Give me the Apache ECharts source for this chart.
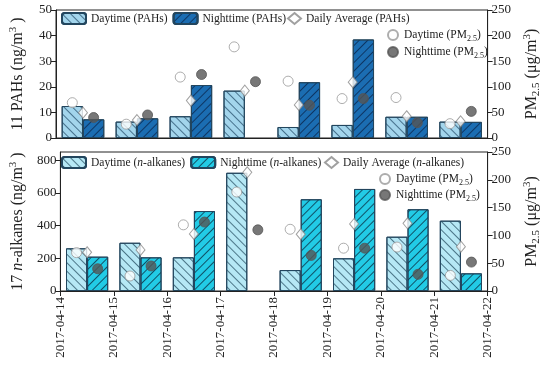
<!DOCTYPE html>
<html><head><meta charset="utf-8">
<script src="https://cdn.jsdelivr.net/npm/echarts@6/dist/echarts.min.js"></script>
<style>html,body{margin:0;padding:0;background:#fff}#c{width:550px;height:365px}</style>
</head><body><div id="c"></div>
<script>
var dateLabels = ['2017-04-14','2017-04-15','2017-04-16','2017-04-17','2017-04-18','2017-04-19','2017-04-20','2017-04-21','2017-04-22'];
var days = ['04-14','04-15','04-16','04-17','04-18','04-19','04-20','04-21'];
var pahDay = [12.5, 6.4, 8.5, 18.5, 4.3, 5.1, 8.3, 6.4];
var pahNight = [7.3, 7.7, 20.7, null, 21.8, 38.5, 8.3, 6.3];
var pahAvg = [9.9, 7.0, 14.6, 18.5, 12.9, 21.8, 8.5, 6.5];
var alkDay = [261, 295, 206, 723, 128, 200, 332, 430];
var alkNight = [210, 206, 489, null, 561, 624, 500, 108];
var alkAvg = [237, 251, 349, 726, 347, 410, 414, 271];
var pmDay = [69, 27, 119, 178, 111, 77, 79, 28];
var pmNight = [40, 45, 124, 110, 64, 77, 30, 52];
var pahTicks = [0, 10, 20, 30, 40, 50];
var alkTicks = [0, 200, 400, 600, 800];
var pmTicks = [0, 50, 100, 150, 200, 250];

var FONT = 'Liberation Serif';
var DAYOFF = 0.3025, NIGHTOFF = 0.6975, AVGOFF = 0.5;
function pts(arr, off){ var r=[]; arr.forEach(function(v,i){ if(v!=null) r.push([i+off, v]); }); return r; }

var chart = echarts.init(document.getElementById('c'), null, {renderer:'canvas'});
var rich = {
  t:{fontFamily:FONT,fontSize:11.5,color:'#222',lineHeight:16},
  i:{fontFamily:FONT,fontSize:11.5,color:'#222',fontStyle:'italic',lineHeight:16},
  s:{fontFamily:FONT,fontSize:8,color:'#222',verticalAlign:'bottom',lineHeight:16}
};
var nameRich = {
  t:{fontFamily:FONT,fontSize:16,color:'#222',lineHeight:20},
  i:{fontFamily:FONT,fontSize:16,color:'#222',fontStyle:'italic',lineHeight:20},
  sup:{fontFamily:FONT,fontSize:11,color:'#222',verticalAlign:'top',lineHeight:20},
  sub:{fontFamily:FONT,fontSize:11,color:'#222',verticalAlign:'bottom',lineHeight:20}
};
function legFmt(name){
  if(name.indexOf('PM2.5')>=0){ var p=name.split(' (PM')[0]; return '{t|'+p+' (PM}{s|2.5}{t|)}'; }
  if(name.indexOf('n-alkanes')>=0){ var q=name.split('(n-')[0]; return '{t|'+q+'(}{i|n}{t|-alkanes)}'; }
  return '{t|'+name+'}';
}
var hatchDay = function(c){ return {symbol:'rect',symbolSize:1,dashArrayX:[1,0],dashArrayY:[1,4.5],rotation:Math.PI/4,color:c}; };
var hatchNight = function(c){ return {symbol:'rect',symbolSize:1,dashArrayX:[1,0],dashArrayY:[1,4.5],rotation:-Math.PI/4,color:c}; };

var C = {dayPAH:'#a3d5ec', nightPAH:'#1b6db2', dayAlk:'#b6e8f5', nightAlk:'#22cbe6', edge:'#23465e'};
var axisLine = {show:true, lineStyle:{color:'#222',width:1}};
var tickOut = {show:true, inside:false, length:5, lineStyle:{color:'#222'}};
var lbl = {fontFamily:FONT, fontSize:13, color:'#222'};

var option = {
  animation:false,
  grid:[
    {left:55, right:57, top:10, height:128, show:true, borderColor:'#222', borderWidth:1, containLabel:false},
    {left:55, right:57, top:152, height:139, show:true, borderColor:'#222', borderWidth:1, containLabel:false}
  ],
  xAxis:[
    {type:'category', gridIndex:0, data:days, show:false, boundaryGap:true},
    {type:'value', gridIndex:0, position:'bottom', min:0, max:8, interval:1, axisLine:axisLine, axisTick:{show:false}, axisLabel:{show:false}, splitLine:{show:false}},
    {type:'category', gridIndex:1, data:days, show:false, boundaryGap:true},
    {type:'value', gridIndex:1, position:'bottom', min:0, max:8, interval:1, axisLine:axisLine, axisTick:tickOut, splitLine:{show:false},
      axisLabel:{fontFamily:FONT,fontSize:13,color:'#222',rotate:90,margin:6,formatter:function(v){return dateLabels[v]||'';}}}
  ],
  yAxis:[
    {type:'value', gridIndex:0, min:0, max:50, interval:10, axisLine:axisLine, axisTick:tickOut, splitLine:{show:false}, axisLabel:Object.assign({margin:4},lbl),
      name:'{t|11 PAHs (ng/m}{sup|3}{t| )}', nameLocation:'middle', nameRotate:90, nameGap:28, nameTextStyle:{rich:nameRich}},
    {type:'value', gridIndex:0, position:'right', min:0, max:250, interval:50, axisLine:axisLine, axisTick:tickOut, splitLine:{show:false}, axisLabel:Object.assign({margin:4},lbl),
      name:'{t|PM}{sub|2.5}{t| (μg/m}{sup|3}{t|)}', nameLocation:'middle', nameRotate:90, nameGap:33, nameTextStyle:{rich:nameRich}},
    {type:'value', gridIndex:1, min:0, max:850, axisLine:axisLine, splitLine:{show:false},
      axisTick:Object.assign({customValues:alkTicks},tickOut), axisLabel:Object.assign({margin:4,customValues:alkTicks},lbl),
      name:'{t|17 }{i|n}{t|-alkanes (ng/m}{sup|3}{t| )}', nameLocation:'middle', nameRotate:90, nameGap:28, nameTextStyle:{rich:nameRich}},
    {type:'value', gridIndex:1, position:'right', min:0, max:250, interval:50, axisLine:axisLine, axisTick:tickOut, splitLine:{show:false}, axisLabel:Object.assign({margin:4},lbl),
      name:'{t|PM}{sub|2.5}{t| (μg/m}{sup|3}{t|)}', nameLocation:'middle', nameRotate:90, nameGap:33, nameTextStyle:{rich:nameRich}}
  ],
  legend:[
    {left:61, top:12, padding:0, itemWidth:24, itemHeight:11, itemGap:5, data:['Daytime (PAHs)','Nighttime (PAHs)'], formatter:legFmt, textStyle:{rich:rich}},
    {left:287, top:12, padding:0, itemWidth:13, itemHeight:11, itemGap:5, data:['Daily Average (PAHs)'], formatter:legFmt, textStyle:{rich:rich}},
    {left:387, top:29, padding:0, orient:'vertical', itemWidth:12, itemHeight:10, itemGap:3, data:['Daytime (PM2.5)','Nighttime (PM2.5)'], formatter:legFmt, textStyle:{rich:rich}},
    {left:61, top:156, padding:0, itemWidth:24, itemHeight:11, itemGap:5, data:['Daytime (n-alkanes)','Nighttime (n-alkanes)'], formatter:legFmt, textStyle:{rich:rich}},
    {left:324, top:156, padding:0, itemWidth:13, itemHeight:11, itemGap:5, data:['Daily Average (n-alkanes)'], formatter:legFmt, textStyle:{rich:rich}},
    {left:379, top:173, padding:0, orient:'vertical', itemWidth:12, itemHeight:10, itemGap:2, data:['Daytime (PM2.5)','Nighttime (PM2.5)'], formatter:legFmt, textStyle:{rich:rich}}
  ],
  series:[
    {name:'Daytime (PAHs)', type:'bar', xAxisIndex:0, yAxisIndex:0, data:pahDay, barGap:'0%', barCategoryGap:'21%',
      itemStyle:{color:C.dayPAH, borderColor:C.edge, borderWidth:1, decal:hatchDay('rgba(30,70,100,0.7)')}},
    {name:'Nighttime (PAHs)', type:'bar', xAxisIndex:0, yAxisIndex:0, data:pahNight, barGap:'0%', barCategoryGap:'21%',
      itemStyle:{color:C.nightPAH, borderColor:C.edge, borderWidth:1, decal:hatchNight('rgba(10,40,80,0.8)')}},
    {name:'Daily Average (PAHs)', type:'scatter', xAxisIndex:1, yAxisIndex:0, data:pts(pahAvg,AVGOFF), symbol:'diamond', symbolSize:[9,11], z:5,
      itemStyle:{color:'#fff', borderColor:'#888', borderWidth:1}},
    {name:'Daytime (PM2.5)', type:'scatter', xAxisIndex:1, yAxisIndex:1, data:pts(pmDay,DAYOFF), symbol:'circle', symbolSize:10, z:5,
      itemStyle:{color:'#fff', borderColor:'#999', borderWidth:1}},
    {name:'Nighttime (PM2.5)', type:'scatter', xAxisIndex:1, yAxisIndex:1, data:pts(pmNight,NIGHTOFF), symbol:'circle', symbolSize:10, z:5,
      itemStyle:{color:'#555', borderColor:'#555', borderWidth:1}},
    {name:'Daytime (n-alkanes)', type:'bar', xAxisIndex:2, yAxisIndex:2, data:alkDay, barGap:'0%', barCategoryGap:'21%',
      itemStyle:{color:C.dayAlk, borderColor:C.edge, borderWidth:1, decal:hatchDay('rgba(30,70,90,0.7)')}},
    {name:'Nighttime (n-alkanes)', type:'bar', xAxisIndex:2, yAxisIndex:2, data:alkNight, barGap:'0%', barCategoryGap:'21%',
      itemStyle:{color:C.nightAlk, borderColor:C.edge, borderWidth:1, decal:hatchNight('rgba(10,50,70,0.8)')}},
    {name:'Daily Average (n-alkanes)', type:'scatter', xAxisIndex:3, yAxisIndex:2, data:pts(alkAvg,AVGOFF), symbol:'diamond', symbolSize:[9,11], z:5,
      itemStyle:{color:'#fff', borderColor:'#888', borderWidth:1}},
    {name:'Daytime (PM2.5)', type:'scatter', xAxisIndex:3, yAxisIndex:3, data:pts(pmDay,DAYOFF), symbol:'circle', symbolSize:10, z:5,
      itemStyle:{color:'#fff', borderColor:'#999', borderWidth:1}},
    {name:'Nighttime (PM2.5)', type:'scatter', xAxisIndex:3, yAxisIndex:3, data:pts(pmNight,NIGHTOFF), symbol:'circle', symbolSize:10, z:5,
      itemStyle:{color:'#555', borderColor:'#555', borderWidth:1}}
  ]
};
chart.setOption(option);
</script></body></html>
